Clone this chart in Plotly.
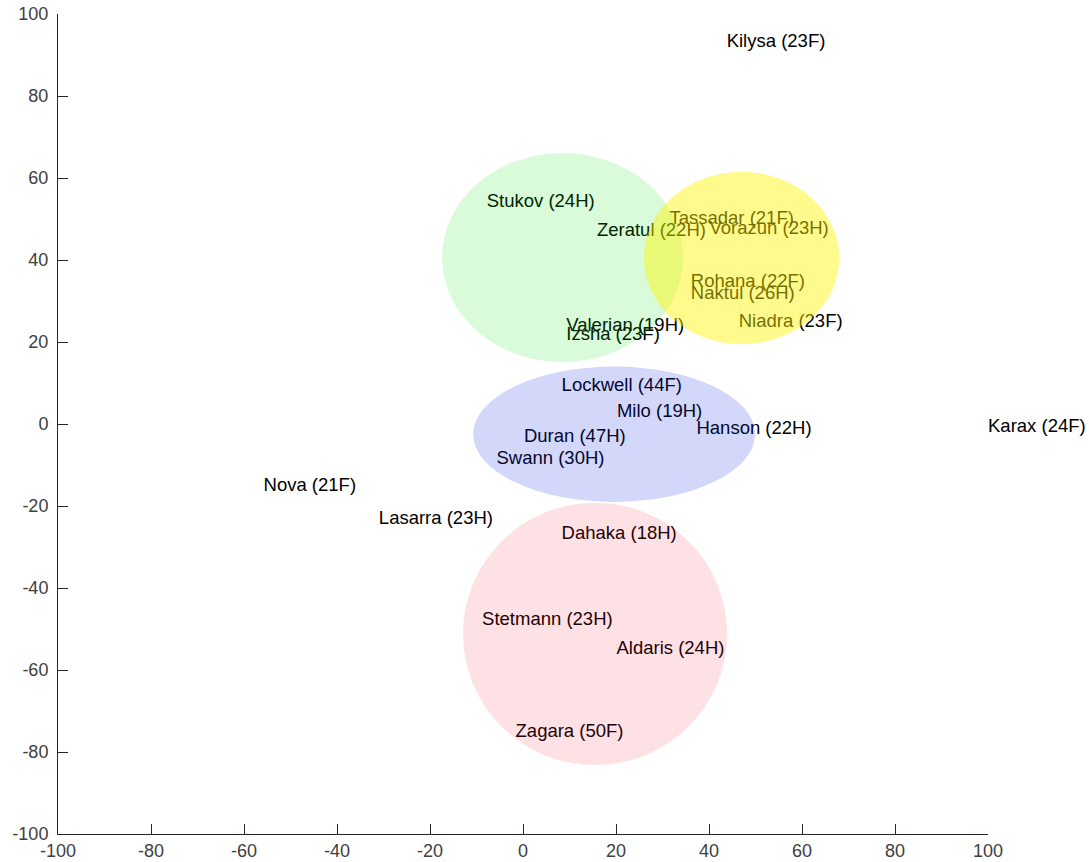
import plotly.graph_objects as go

# ---- data ----
labels = ["Kilysa (23F)", "Stukov (24H)", "Zeratul (22H)", "Tassadar (21F)", "Vorazun (23H)",
          "Rohana (22F)", "Naktul (26H)", "Niadra (23F)", "Valerian (19H)", "Izsha (23F)",
          "Lockwell (44F)", "Milo (19H)", "Hanson (22H)", "Duran (47H)", "Swann (30H)",
          "Karax (24F)", "Nova (21F)", "Lasarra (23H)", "Dahaka (18H)", "Stetmann (23H)",
          "Aldaris (24H)", "Zagara (50F)"]
label_x = [43.8, -7.8, 15.9, 31.5, 40.1, 36.1, 36.1, 46.4, 9.3, 9.3,
           8.3, 20.2, 37.3, 0.2, -5.7, 100.0, -55.8, -31.0, 8.3, -8.8, 20.1, -1.6]
label_y = [93.0, 54.0, 47.0, 50.0, 47.5, 34.5, 31.5, 24.8, 23.9, 21.5,
           9.1, 2.8, -1.2, -3.3, -8.7, -0.8, -15.1, -23.2, -26.9, -48.0, -54.9, -75.2]

# groups (ellipses): centre x, centre y, radius x, radius y, fill colour
group_cx = [8.5, 47.0, 19.6, 15.5]
group_cy = [40.6, 40.5, -2.5, -51.2]
group_rx = [25.9, 21.0, 30.3, 28.4]
group_ry = [25.5, 21.0, 16.5, 32.0]
group_colors = ["rgba(0,230,0,0.15)", "rgba(255,245,0,0.45)",
                "rgba(20,40,230,0.19)", "rgba(245,20,50,0.13)"]

x_ticks = list(range(-100, 101, 20))
y_ticks = list(range(-100, 101, 20))

axis_color = "#262626"
tick_color = "#404040"
font_family = "Liberation Sans, Arial, Helvetica, sans-serif"

fig = go.Figure()
fig.add_trace(go.Scatter(
    x=label_x, y=label_y, text=labels, mode="text",
    textposition="middle right",
    textfont=dict(family=font_family, size=18.5, color="#000000"),
    cliponaxis=False, hoverinfo="skip", showlegend=False,
))

for cx, cy, rx, ry, col in zip(group_cx, group_cy, group_rx, group_ry, group_colors):
    fig.add_shape(type="circle", xref="x", yref="y",
                  x0=cx - rx, x1=cx + rx, y0=cy - ry, y1=cy + ry,
                  fillcolor=col, line=dict(width=0), layer="above")

fig.update_layout(
    width=1089, height=862,
    margin=dict(l=57.5, r=101, t=14, b=28, pad=0, autoexpand=False),
    paper_bgcolor="white", plot_bgcolor="white",
    font=dict(family=font_family, size=18, color=tick_color),
    showlegend=False,
)
fig.update_xaxes(range=[-100, 100], tickvals=x_ticks, ticktext=[str(v) for v in x_ticks],
                 showgrid=False, zeroline=False, showline=True, linecolor=axis_color,
                 linewidth=1, ticks="inside", ticklen=10, tickcolor=axis_color,
                 automargin=False, ticklabelstandoff=0,
                 tickfont=dict(size=18, color=tick_color))
fig.update_yaxes(range=[-100, 100], tickvals=y_ticks, ticktext=[str(v) for v in y_ticks],
                 showgrid=False, zeroline=False, showline=True, linecolor=axis_color,
                 linewidth=1, ticks="inside", ticklen=10, tickcolor=axis_color,
                 automargin=False, ticklabelstandoff=5,
                 tickfont=dict(size=18, color=tick_color))

fig.write_html("out.html",
               config={"displayModeBar": False},
               post_script="document.body.style.margin='0';document.body.style.overflow='hidden';")
